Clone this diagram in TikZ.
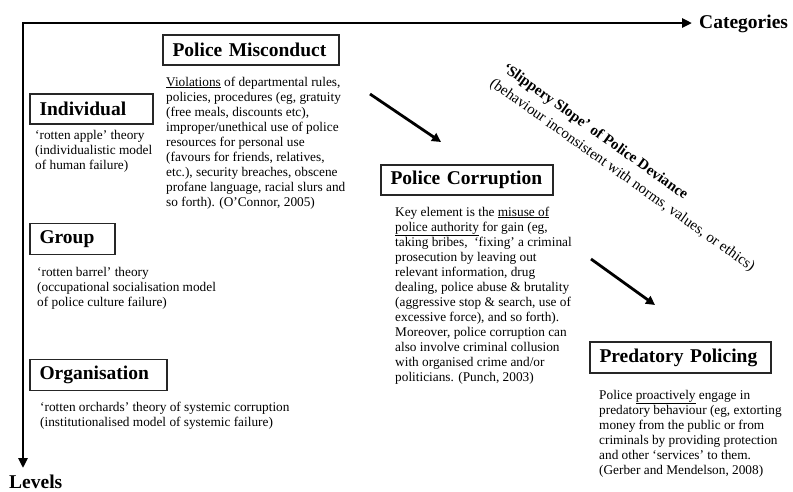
\documentclass[tikz,border=0pt]{standalone}
\usepackage{fontspec}
\setmainfont{Liberation Serif}
\usetikzlibrary{arrows.meta}
\begin{document}
\begin{tikzpicture}[x=1pt,y=-1pt,
  titlebox/.style={draw=black!85, line width=1.2pt, font=\fontsize{19.5}{22}\selectfont\bfseries,
    inner xsep=9.5pt, inner ysep=0pt, align=left, anchor=center},
  bodytext/.style={anchor=base west, inner sep=0pt, align=left,
    font=\fontsize{13.3}{15}\selectfont},
  axislabel/.style={anchor=base west, inner sep=0pt, font=\fontsize{19.5}{22}\selectfont\bfseries},
  axisline/.style={line width=2.8pt, line join=miter, {Triangle[length=10pt,width=9pt]}-{Triangle[length=10pt,width=9pt]}},
  slopearrow/.style={line width=2.8pt, -{Triangle[length=9pt,width=9pt]}},
  slopetext/.style={anchor=base west, inner sep=0pt, rotate=-35.5}]
\useasboundingbox (0,0) rectangle (793,491);

% axes
\coordinate (corner) at (23,23);
\coordinate (catend) at (692,23);
\coordinate (lvlend) at (23,468);
\draw[axisline] (catend) -- (corner) -- (lvlend);
\node[axislabel] (cat) at (699,28) {Categories};
\node[axislabel] (lvl) at (9,488) {Levels};

% title boxes
\node[titlebox, text width=157pt, minimum height=30pt] (misc) at (251,50) {Police Misconduct};
\node[titlebox, text width=104pt, minimum height=30pt] (ind) at (91.5,109) {Individual};
\node[titlebox, text width=66pt, minimum height=31pt] (grp) at (72.5,239) {Group};
\node[titlebox, text width=118pt, minimum height=31pt] (org) at (98.5,375) {Organisation};
\node[titlebox, text width=153pt, minimum height=30pt] (corr) at (467,180) {Police Corruption};
\node[titlebox, text width=162pt, minimum height=31pt] (pred) at (680.5,357.5) {Predatory Policing};

% descriptions (anchor = baseline of the last line)
\node[bodytext] (misctext) at (166,206) {\underline{Violations} of departmental rules,\\
policies, procedures (eg, gratuity\\
(free meals, discounts etc),\\
improper/unethical use of police\\
resources for personal use\\
(favours for friends, relatives,\\
etc.), security breaches, obscene\\
profane language, racial slurs and\\
so forth). (O'Connor, 2005)};

\node[bodytext] (indtext) at (35,169) {`rotten apple' theory\\
(individualistic model\\
of human failure)};

\node[bodytext] (grptext) at (37,306) {`rotten barrel' theory\\
(occupational socialisation model\\
of police culture failure)};

\node[bodytext] (orgtext) at (40,426) {`rotten orchards' theory of systemic corruption\\
(institutionalised model of systemic failure)};

\node[bodytext] (corrtext) at (395,381) {Key element is the \underline{misuse of}\\
\underline{police authority} for gain (eg,\\
taking bribes,\ \ `fixing' a criminal\\
prosecution by leaving out\\
relevant information, drug\\
dealing, police abuse \& brutality\\
(aggressive stop \& search, use of\\
excessive force), and so forth).\\
Moreover, police corruption can\\
also involve criminal collusion\\
with organised crime and/or\\
politicians. (Punch, 2003)};

\node[bodytext] (predtext) at (599,474) {Police \underline{proactively} engage in\\
predatory behaviour (eg, extorting\\
money from the public or from\\
criminals by providing protection\\
and other `services' to them.\\
(Gerber and Mendelson, 2008)};

% slippery slope
\node[slopetext, font=\fontsize{15}{17}\selectfont\bfseries] (slope1) at (502,70) {`Slippery Slope' of Police Deviance};
\node[slopetext, font=\fontsize{15}{17}\selectfont] (slope2) at (489,85) {(behaviour inconsistent with norms, values, or ethics)};

% arrows
\coordinate (a1s) at (370,94);
\coordinate (a1e) at (441,142);
\coordinate (a2s) at (591,259);
\coordinate (a2e) at (655,305);
\draw[slopearrow] (a1s) -- (a1e);
\draw[slopearrow] (a2s) -- (a2e);
\end{tikzpicture}
\end{document}
